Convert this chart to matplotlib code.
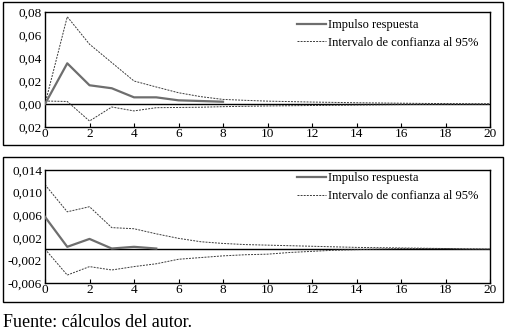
import numpy as np
import matplotlib
matplotlib.use('Agg')
import matplotlib.pyplot as plt
from matplotlib.patches import Rectangle
import matplotlib.ticker as mtick

plt.rcParams['font.family'] = ['Liberation Serif', 'DejaVu Serif']
plt.rcParams['font.size'] = 9

# periodos
periods = list(range(0, 21))

# panel superior
irf_top = [0.0, 0.0354, 0.0163, 0.0137, 0.0058, 0.0058, 0.0032, 0.0026, 0.0020]
upper_top = [0.0, 0.0759, 0.052, 0.036, 0.020, 0.0148, 0.0098, 0.0064, 0.0040, 0.0032,
             0.0025, 0.0021, 0.0017, 0.0014, 0.0011, 0.0009, 0.0007, 0.0005, 0.0004, 0.0002, 0.0001]
lower_top = [0.0026, 0.0022, -0.0148, -0.0026, -0.0060, -0.0032, -0.0030, -0.0028, -0.0023, -0.0020,
             -0.0017, -0.0015, -0.0013, -0.0011, -0.0009, -0.0007, -0.0005, -0.0004, -0.0003, -0.0002, -0.0001]
yticks_top = [-0.02, 0.0, 0.02, 0.04, 0.06, 0.08]
ylabels_top = ['0,02', '0,00', '0,02', '0,04', '0,06', '0,08']

# panel inferior
irf_bot = [0.0057, 0.0004, 0.0018, 0.0001, 0.0004, 0.0001]
upper_bot = [0.0114, 0.0066, 0.0075, 0.0038, 0.0036, 0.0027, 0.0019, 0.0013, 0.0010, 0.0008,
             0.0007, 0.0006, 0.0005, 0.0004, 0.0003, 0.00025, 0.0002, 0.00015, 0.0001, 0.00005, 0.0]
lower_bot = [0.0, -0.0046, -0.0031, -0.0037, -0.0031, -0.0026, -0.0018, -0.0015, -0.0012, -0.0010,
             -0.0009, -0.0006, -0.0004, -0.0002, -0.0001, 0.0, 0.0001, 0.0001, 0.0001, 0.0, 0.0]
yticks_bot = [-0.006, -0.002, 0.002, 0.006, 0.010, 0.014]
ylabels_bot = ['-0,006', '-0,002', '0,002', '0,006', '0,010', '0,014']

xticks = list(range(0, 21, 2))

irf_color = '#6e6e6e'
band_color = '#3a3a3a'
band_style = (0, (2, 1.2))

fig = plt.figure(figsize=(5.08, 3.33), dpi=100)

# marcos exteriores
for y0, y1 in [(0.5646, 0.994), (0.0931, 0.5285)]:
    fig.add_artist(Rectangle((0.0059, y0), 0.984, y1 - y0, transform=fig.transFigure,
                             fill=False, ec='black', lw=1.0))

ax1 = fig.add_axes([0.0886, 0.6186, 0.876, 0.3453])
ax2 = fig.add_axes([0.0886, 0.1502, 0.876, 0.3393])


def draw_panel(ax, irf, upper, lower, yticks, ylabels, ylim, leg_y):
    ax.axhline(0, color='black', lw=1.0, zorder=1)
    ax.plot(periods[:len(irf)], irf, color=irf_color, lw=1.6, label='Impulso respuesta', zorder=3)
    ax.plot(periods, upper, color=band_color, lw=0.7, ls=band_style,
            label='Intervalo de confianza al 95%', zorder=2)
    ax.plot(periods, lower, color=band_color, lw=0.7, ls=band_style, zorder=2)
    ax.set_xlim(0, 20)
    ax.set_ylim(*ylim)
    ax.set_xticks(xticks)
    ax.set_yticks(yticks)
    ax.yaxis.set_major_formatter(mtick.FixedFormatter(ylabels))
    ax.tick_params(axis='x', direction='in', length=3, width=0.8, pad=1, labelsize=9.5)
    ax.tick_params(axis='y', length=0, pad=2, labelsize=9.5)
    for s in ax.spines.values():
        s.set_linewidth(1.0)
    ax.legend(loc='upper left', bbox_to_anchor=(0.566, leg_y), frameon=False,
              borderaxespad=0, borderpad=0, handlelength=2.3, handletextpad=0.2,
              labelspacing=0.45, fontsize=9)


draw_panel(ax1, irf_top, upper_top, lower_top, yticks_top, ylabels_top, (-0.02, 0.08), 0.94)
draw_panel(ax2, irf_bot, upper_bot, lower_bot, yticks_bot, ylabels_bot, (-0.006, 0.014), 0.98)

fig.text(0.006, 0.018, 'Fuente: cálculos del autor.', fontsize=13, ha='left', va='baseline')

fig.savefig('out.png', dpi=100)
